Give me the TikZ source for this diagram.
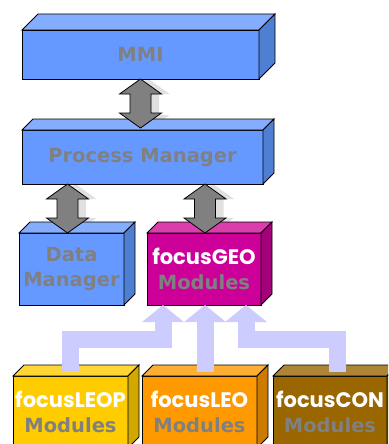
\documentclass[tikz,border=0pt]{standalone}
\usepackage{fontspec}
\setmainfont{DejaVu Sans}
\newfontfamily\gothic{Poppins}
\usepackage{tikz}
\usetikzlibrary{arrows.meta,backgrounds,calc}
\definecolor{frontblue}{HTML}{6699FF}
\definecolor{topblue}{HTML}{85ADFF}
\definecolor{sideblue}{HTML}{4F7FD3}
\definecolor{frontgeo}{HTML}{CC0099}
\definecolor{topgeo}{HTML}{D93DAE}
\definecolor{sidegeo}{HTML}{A3007A}
\definecolor{frontleop}{HTML}{FFCC00}
\definecolor{topleop}{HTML}{FFD633}
\definecolor{sideleop}{HTML}{D1A700}
\definecolor{frontleo}{HTML}{FF9900}
\definecolor{topleo}{HTML}{FFAD33}
\definecolor{sideleo}{HTML}{CC7A00}
\definecolor{frontcon}{HTML}{996600}
\definecolor{topcon}{HTML}{AD8535}
\definecolor{sidecon}{HTML}{7A5200}
\definecolor{textgray}{HTML}{808080}
\definecolor{feed}{HTML}{CCCCFF}
\newcommand\focus[1]{{\color{white}\gothic\fontsize{21}{25}\selectfont focus#1}}

\begin{document}
\begin{tikzpicture}[x=1pt,y=-1pt,
	box/.style={draw,line width=0.8pt,inner sep=0pt,outer sep=0pt,anchor=north west,
		align=center,text=textgray,font=\fontsize{19.5}{25}\selectfont\bfseries},
	face/.style={draw,line width=0.8pt},
	dualarrow/.style={draw,line width=0.8pt,fill=black!50,to path={let \p1=(\tikztostart),\p2=(\tikztotarget) in
		(\x1,\y1) -- (\x1+21pt,\y1-15pt) -- (\x1+10.5pt,\y1-15pt) -- (\x1+10.5pt,\y2+15pt)
		-- (\x1+21pt,\y2+15pt) -- (\x1,\y2) -- (\x1-21pt,\y2+15pt) -- (\x1-10.5pt,\y2+15pt)
		-- (\x1-10.5pt,\y1-15pt) -- (\x1-21pt,\y1-15pt) -- cycle}},
	dualshadow/.style={dualarrow,draw=none,fill=black!12},
	feedarrow/.style={draw=feed,line width=17pt,line join=miter,-{Triangle[length=17pt,width=41pt]}}]
	\useasboundingbox (0,0) rectangle (388,444);
	\clip (0,0) rectangle (388,444);
	\draw
		(22,30) node[box,fill=frontblue,minimum width=237,minimum height=49](mmi){MMI}
		(22,130) node[box,fill=frontblue,minimum width=241,minimum height=54](pm){Process Manager}
		(19,233) node[box,fill=frontblue,minimum width=105,minimum height=72](dm){Data\\Manager}
		(147,233) node[box,fill=frontgeo,minimum width=114,minimum height=72](geo){\focus{GEO}\\Modules}
		(13,376) node[box,fill=frontleop,minimum width=115,minimum height=72](leop){\focus{LEOP}\\Modules}
		(142,376) node[box,fill=frontleo,minimum width=115,minimum height=72](leo){\focus{LEO}\\Modules}
		(273,376) node[box,fill=frontcon,minimum width=114,minimum height=72](con){\focus{CON}\\Modules};
	% top and side faces
	\foreach \n/\dep/\c in {mmi/16/blue,pm/11/blue,dm/11/blue,geo/11/geo,leop/11/leop,leo/11/leo,con/11/con}{
		\draw[face,fill=top\c] (\n.north west) -- ++(\dep,-\dep) -- ($(\n.north east)+(\dep,-\dep)$) -- (\n.north east) -- cycle;
		\draw[face,fill=side\c] (\n.north east) -- ++(\dep,-\dep) -- ($(\n.south east)+(\dep,-\dep)$) -- (\n.south east) -- cycle;
	}
	\begin{scope}[on background layer]
		\draw[dualshadow]([xshift=8pt]mmi.south) to ([xshift=8pt]mmi.south |- pm.north);
		\draw[dualshadow]([xshift=4pt]dm.north |- pm.south) to ([xshift=4pt]dm.north);
		\draw[dualshadow]([xshift=9pt]geo.north |- pm.south) to ([xshift=9pt]geo.north);
	\end{scope}
	\draw[dualarrow](mmi.south) to ([yshift=2pt]mmi.south |- pm.north);
	\draw[dualarrow]([xshift=-4pt]dm.north |- pm.south) to ([xshift=-4pt]dm.north);
	\draw[dualarrow]([xshift=1pt]geo.north |- pm.south) to ([xshift=1pt]geo.north);
	\draw[feedarrow]([yshift=4pt]leop.north) -- ++(0,-32.5) -| ([xshift=-41pt]geo.south);
	\draw[feedarrow]([xshift=5.5pt,yshift=4pt]leo.north) -- ([xshift=1pt]geo.south);
	\draw[feedarrow]([xshift=7pt,yshift=4pt]con.north) -- ++(0,-32.5) -| ([xshift=42pt]geo.south);
\end{tikzpicture}
\end{document}
